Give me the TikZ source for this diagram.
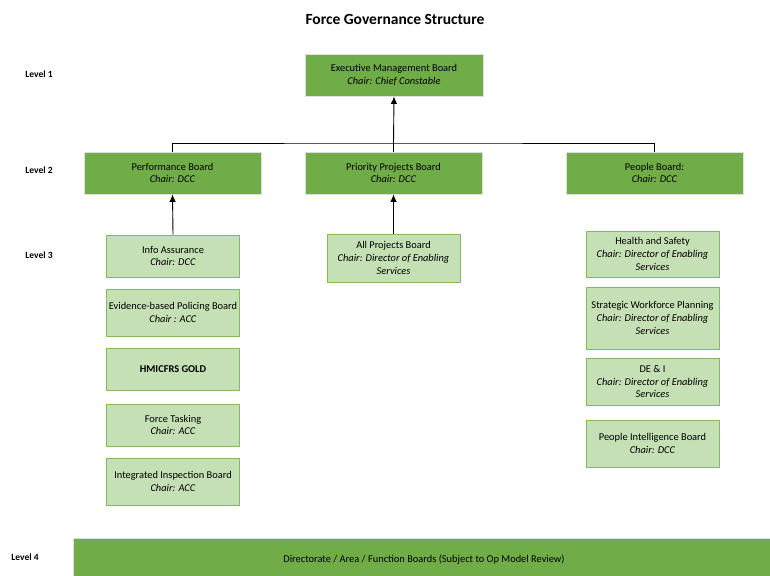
\documentclass[tikz,border=0pt]{standalone}
\usepackage{fontspec}
\setmainfont{Carlito}
\usetikzlibrary{arrows.meta}
\definecolor{boardgreen}{HTML}{70AD47}
\definecolor{subgreen}{HTML}{C5E0B4}
\begin{document}
\begin{tikzpicture}[x=1pt,y=-1pt,font=\fontsize{10.4}{12.6}\selectfont,
	board/.style={draw=gray!25,line width=0.8pt,fill=boardgreen,align=center,inner sep=2pt},
	subboard/.style={draw=boardgreen!85,line width=0.6pt,fill=subgreen,align=center,inner sep=2pt,minimum width=133pt},
	levellabel/.style={font=\fontsize{9.5}{11}\selectfont\bfseries},
	link/.style={draw=black,line width=0.9pt},
	uparrow/.style={link,-{Latex[length=7.5pt,width=6.5pt]}}]
	\useasboundingbox (0,0) rectangle (770,575);
	%\draw[step=10pt,very thin,color=gray] (0,0) grid (770,575);
	\node[font=\fontsize{15.5}{18}\selectfont\bfseries] (title) at (395,19) {Force Governance Structure};
	% level labels
	\node[levellabel] (lv1) at (39,74) {Level 1};
	\node[levellabel] (lv2) at (39,170) {Level 2};
	\node[levellabel] (lv3) at (39,255) {Level 3};
	\node[levellabel] (lv4) at (25,557) {Level 4};
	% level 1 and 2
	\node[board,minimum width=178pt,minimum height=42pt] (emb) at (394,75) {Executive Management Board\\\textit{Chair: Chief Constable}};
	\node[board,minimum width=177pt,minimum height=42pt] (perf) at (172.5,173) {Performance Board\\\textit{Chair: DCC}};
	\node[board,minimum width=177pt,minimum height=42pt] (prio) at (393.5,173) {Priority Projects Board\\\textit{Chair: DCC}};
	\node[board,minimum width=177pt,minimum height=42pt] (people) at (654.5,173) {People Board:\\\textit{Chair: DCC}};
	\coordinate (hub) at (393.5,143);
	\draw[link] (perf.north) |- (hub) -| (people.north);
	\draw[link] (prio.north) -- (hub);
	\draw[uparrow] (hub) -- (emb.south);
	% level 3, left column
	\node[subboard,minimum height=42pt] (info) at (173,256) {Info Assurance\\\textit{Chair: DCC}};
	\node[subboard,minimum height=47pt] (ebp) at (173,312.5) {Evidence-based Policing Board\\\textit{Chair : ACC}};
	\node[subboard,minimum height=42pt,font=\fontsize{10.4}{12.6}\selectfont\bfseries] (gold) at (173,369) {HMICFRS GOLD};
	\node[subboard,minimum height=42pt] (tasking) at (173,425) {Force Tasking\\\textit{Chair: ACC}};
	\node[subboard,minimum height=47pt] (iib) at (173,481.5) {Integrated Inspection Board\\\textit{Chair: ACC}};
	\draw[uparrow] (info.north) -- (perf.south);
	% level 3, middle
	\node[subboard,minimum height=48pt] (allproj) at (393.5,258) {All Projects Board\\\textit{Chair: Director of Enabling}\\\textit{Services}};
	\draw[uparrow] (allproj.north) -- (prio.south);
	% level 3, right column
	\node[subboard,minimum height=46pt] (health) at (652.5,254) {Health and Safety\\\textit{Chair: Director of Enabling}\\\textit{Services}};
	\node[subboard,minimum height=62pt] (swp) at (652.5,318) {Strategic Workforce Planning\\\textit{Chair: Director of Enabling}\\\textit{Services}};
	\node[subboard,minimum height=47pt] (dei) at (652.5,381.5) {DE \& I\\\textit{Chair: Director of Enabling}\\\textit{Services}};
	\node[subboard,minimum height=47pt] (pib) at (652.5,443.5) {People Intelligence Board\\\textit{Chair: DCC}};
	% level 4 (runs off the page edge)
	\node[board,minimum width=702pt,minimum height=44pt] (dir) at (424,560) {Directorate / Area / Function Boards (Subject to Op Model Review)};
\end{tikzpicture}
\end{document}
